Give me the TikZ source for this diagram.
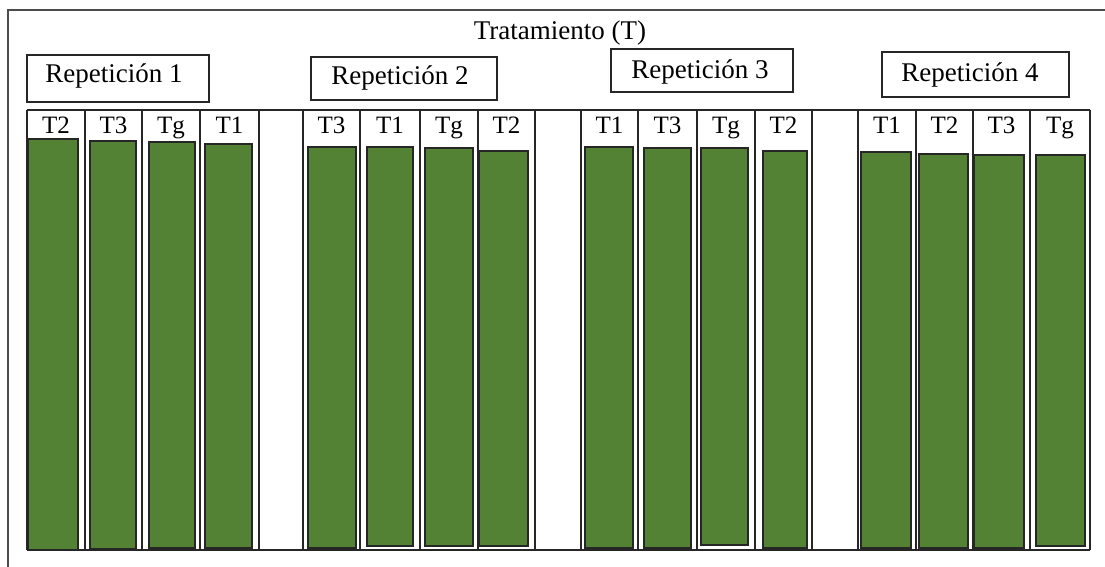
\documentclass[tikz,border=0pt]{standalone}
\usepackage{fontspec}
\setmainfont{Liberation Serif}
\definecolor{leaf}{RGB}{84,130,53}
\begin{document}
\begin{tikzpicture}[x=1pt,y=-1pt,
  frame/.style={line width=1.3pt, draw=black!70},
  gridline/.style={line width=1.1pt, draw=black!85},
  bar/.style={fill=leaf, draw=black!85, line width=1.3pt},
  lab/.style={font=\fontsize{25}{28}\selectfont, anchor=base, inner sep=0pt},
  reptext/.style={font=\fontsize{27}{30}\selectfont, anchor=base, inner sep=0pt},
  repbox/.style={draw=black!85, line width=1.2pt, inner sep=0pt, fill=white}]
\useasboundingbox (0,0) rectangle (1105,567);
% outer frame
\draw[frame] (8,567) -- (8,10) -- (1105,10);
% title
\node[reptext] (title) at (560,40) {Tratamiento (T)};
% repetition boxes
\node[repbox, minimum width=182pt, minimum height=47pt] (r1) at (118,78.5) {};
\node[repbox, minimum width=186pt, minimum height=43pt] (r2) at (404,78.5) {};
\node[repbox, minimum width=182pt, minimum height=43pt] (r3) at (702,70.5) {};
\node[repbox, minimum width=187pt, minimum height=45pt] (r4) at (975.5,74.5) {};
\node[reptext] (t1) at (114,83) {Repetición 1};
\node[reptext] (t2) at (400,85) {Repetición 2};
\node[reptext] (t3) at (700,79) {Repetición 3};
\node[reptext] (t4) at (970,82) {Repetición 4};
% grid
\draw[gridline] (27,110) -- (1090,110);
\draw[gridline] (27,550) -- (1090,550);
\foreach \x in {27,85,142,200,259,303,360,420,478,535,581,638,697,755,812,858,916,973,1030,1090}
  \draw[gridline] (\x,110) -- (\x,550);
% bars and labels
\foreach \xa/\xb/\bl/\bt/\br/\bb/\t [count=\i] in {
  27/85/28/139/78/550/T2, 85/142/90/141/136/549/T3, 142/200/149/142/195/548/Tg, 200/259/205/144/252/548/T1,
  303/360/308/147/356/548/T3, 360/420/367/147/413/546/T1, 420/478/425/148/473/546/Tg, 478/535/479/151/528/546/T2,
  581/638/585/147/633/548/T1, 638/697/644/148/691/548/T3, 697/755/701/148/748/545/Tg, 755/812/763/151/807/548/T2,
  858/916/861/152/911/548/T1, 916/973/919/154/968/548/T2, 973/1030/974/155/1024/548/T3, 1030/1090/1036/155/1085/546/Tg}
{
  \draw[bar] (\bl,\bt) rectangle (\br,\bb);
  \node[lab] (l\i) at ({(\xa+\xb)/2},133) {\t};
}
\end{tikzpicture}
\end{document}
